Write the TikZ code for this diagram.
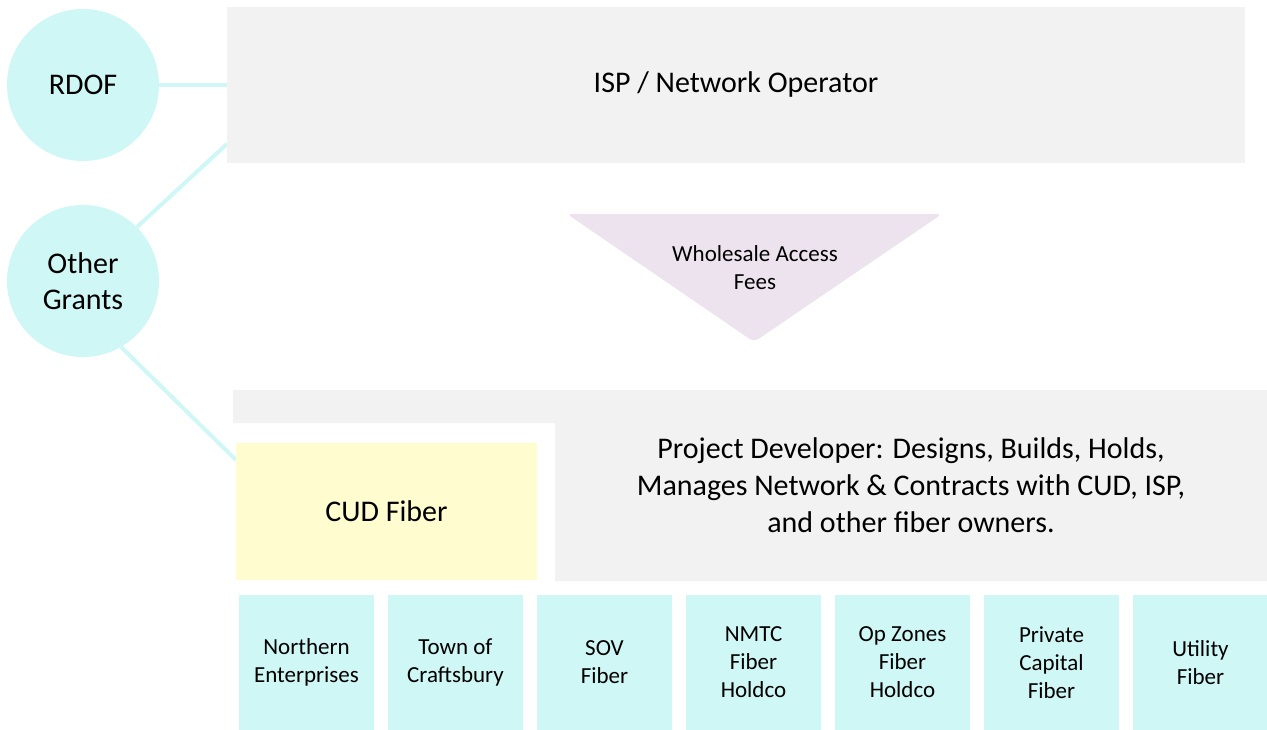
\documentclass[tikz,border=0pt]{standalone}
\usepackage{fontspec}
\setmainfont{Carlito}
\definecolor{aqua}{HTML}{CFF7F5}
\definecolor{panel}{HTML}{F2F2F2}
\definecolor{cream}{HTML}{FFFDCF}
\definecolor{lilac}{HTML}{EDE3EF}
\tikzset{
  big text/.style={font=\fontsize{30}{36}\selectfont, align=center},
  small text/.style={font=\fontsize{23}{28}\selectfont, align=center},
  source/.style={circle, fill=aqua, minimum size=152pt, inner sep=0pt, big text},
  owner/.style={fill=aqua, minimum width=135pt, minimum height=135pt, inner sep=0pt, small text},
  link/.style={draw=aqua, line width=4pt},
  on layer/.code={
    \pgfonlayer{#1}\begingroup
    \aftergroup\endpgfonlayer
    \aftergroup\endgroup
  },
}
\pgfdeclarelayer{behind}
\pgfsetlayers{behind,main}

\begin{document}
\begin{tikzpicture}[x=1pt,y=-1pt]
\useasboundingbox (0,0) rectangle (1267,730);
%%%funding sources
\node[source] (rdof) at (83,85) {RDOF};
\node[source] (grants) at (83,281) {Other\\Grants};

%%%operator
\node[fill=panel, minimum width=1018pt, minimum height=156pt, inner sep=0pt, big text] (isp) at (736,85) {ISP / Network Operator};

%%%fees
\fill[lilac, rounded corners=5pt] (567,214) -- (942,214) -- (754,342) -- cycle;
\node[small text] (fees) at (755,268) {Wholesale Access\\Fees};

%%%developer
\fill[panel] (233,390) -- (1267,390) -- (1267,581) -- (555,581) -- (555,423) -- (233,423) -- cycle;
\node[big text, font=\fontsize{30}{37}\selectfont] (developer) at (911,485.5)
  {Project Developer: Designs, Builds, Holds,\\Manages Network \& Contracts with CUD, ISP,\\and other fiber owners.};
\node[fill=cream, minimum width=301pt, minimum height=137pt, inner sep=0pt, big text] (cud) at (386.5,511.5) {CUD Fiber};

%%%fiber owners
\foreach \txt [count=\i from 0] in {{Northern\\Enterprises},{Town of\\Craftsbury},{SOV\\Fiber},{NMTC\\Fiber\\Holdco},{Op Zones\\Fiber\\Holdco},{Private\\Capital\\Fiber},{Utility\\Fiber}}
  \node[owner] (owner\i) at ({306.5+149*\i},662.5) {\txt};

%%%links
\coordinate (isp entry) at (227,144);
\coordinate (cud entry) at (236,460);
\draw[link, on layer=behind] (rdof) -- (isp.west);
\draw[link, on layer=behind] (grants.45) -- (isp entry);
\draw[link, on layer=behind] (grants.-60) -- (cud entry);

\end{tikzpicture}
\end{document}
